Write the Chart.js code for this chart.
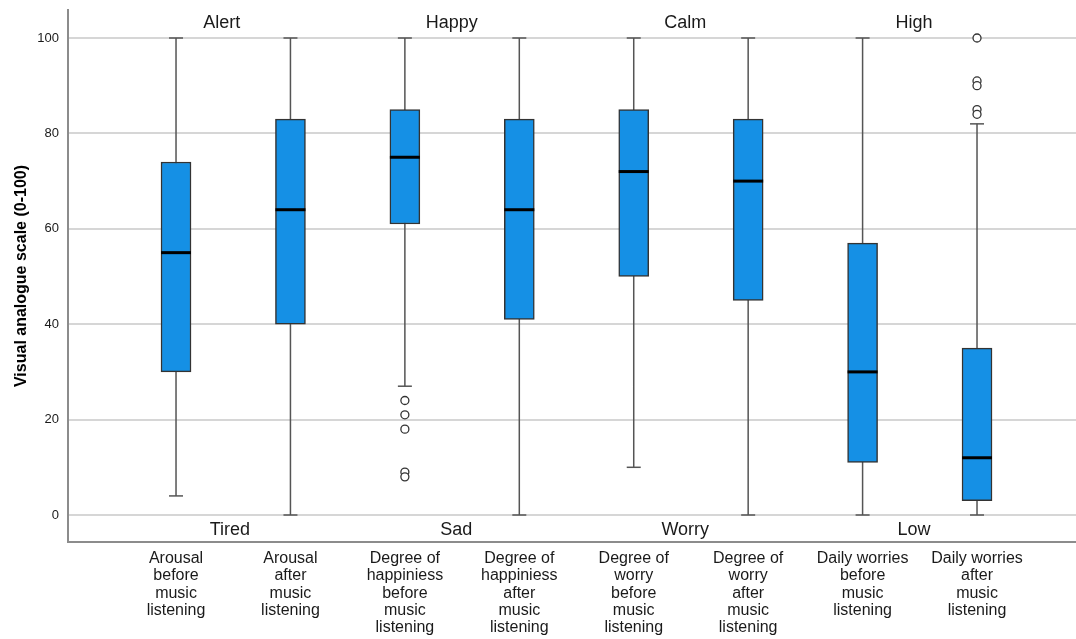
<!DOCTYPE html>
<html>
<head>
<meta charset="utf-8">
<script src="https://cdn.jsdelivr.net/npm/chart.js@4.4.1/dist/chart.umd.min.js"></script>
<style>
  html, body { margin: 0; padding: 0; background: #fff; overflow: hidden; }
  #wrap { width: 1076px; height: 639px; position: relative; }
</style>
</head>
<body>
<div id="wrap"><canvas id="chart"></canvas></div>
<script>
// ── Data ───────────────────────────────────────────────────────────────
const categories = [
  ['Arousal', 'before', 'music', 'listening'],
  ['Arousal', 'after', 'music', 'listening'],
  ['Degree of', 'happiniess', 'before', 'music', 'listening'],
  ['Degree of', 'happiniess', 'after', 'music', 'listening'],
  ['Degree of', 'worry', 'before', 'music', 'listening'],
  ['Degree of', 'worry', 'after', 'music', 'listening'],
  ['Daily worries', 'before', 'music', 'listening'],
  ['Daily worries', 'after', 'music', 'listening']
];
const whiskerLow  = [4, 0, 27, 0, 10, 0, 0, 0];
const q1Values    = [30, 40, 61, 41, 50, 45, 11, 3];
const medians     = [55, 64, 75, 64, 72, 70, 30, 12];
const q3Values    = [74, 83, 85, 83, 85, 83, 57, 35];
const whiskerHigh = [100, 100, 100, 100, 100, 100, 100, 82];
const outliers    = [[], [], [24, 21, 18, 9, 8], [], [], [], [], [100, 91, 90, 85, 84]];

const yTicks = [0, 20, 40, 60, 80, 100];
const yTitle = 'Visual analogue scale (0-100)';

// anchor labels: text, x position (category index), y value
const topLabels    = ['Alert', 'Happy', 'Calm', 'High'];
const topLabelX    = [0.40, 2.41, 4.45, 6.45];
const bottomLabels = ['Tired', 'Sad', 'Worry', 'Low'];
const bottomLabelX = [0.47, 2.45, 4.45, 6.45];
const topLabelY    = 103.1;
const bottomLabelY = -3.1;

// ── Styles ─────────────────────────────────────────────────────────────
const BOX_FILL   = '#1590e5';
const BOX_LINE   = '#333333';
const WHISKER    = '#555555';
const GRID       = '#d6d6d6';
const AXIS       = '#8c8c8c';
const TEXT       = '#1a1a1a';
const FONT       = "'Liberation Sans', Arial, sans-serif";

// ── Build datasets from the arrays ─────────────────────────────────────
const whiskerPts = [];
categories.forEach((_, i) => {
  whiskerPts.push({ x: i, y: whiskerLow[i] }, { x: i, y: whiskerHigh[i] }, { x: i, y: null });
});
const capPts = [];
categories.forEach((_, i) => {
  capPts.push({ x: i, y: whiskerLow[i] }, { x: i, y: whiskerHigh[i] });
});
const boxPts    = categories.map((_, i) => ({ x: i, y: [q1Values[i], q3Values[i]] }));
const medianPts = categories.map((_, i) => ({ x: i, y: medians[i] }));
const outlierPts = [];
outliers.forEach((list, i) => list.forEach(v => outlierPts.push({ x: i, y: v })));

// ── Anchor label plugin ────────────────────────────────────────────────
const anchorLabels = {
  id: 'anchorLabels',
  afterDatasetsDraw(chart) {
    const { ctx, scales: { x, y } } = chart;
    ctx.save();
    ctx.fillStyle = TEXT;
    ctx.font = `18px ${FONT}`;
    ctx.textAlign = 'center';
    ctx.textBaseline = 'middle';
    topLabels.forEach((t, i) => ctx.fillText(t, x.getPixelForValue(topLabelX[i]), y.getPixelForValue(topLabelY)));
    bottomLabels.forEach((t, i) => ctx.fillText(t, x.getPixelForValue(bottomLabelX[i]), y.getPixelForValue(bottomLabelY)));
    ctx.restore();
  }
};

// ── Chart ──────────────────────────────────────────────────────────────
new Chart(document.getElementById('chart'), {
  type: 'bar',
  data: {
    datasets: [
      {
        type: 'scatter', data: outlierPts, order: 0,
        pointStyle: 'circle', pointRadius: 4, pointBackgroundColor: '#fff',
        pointBorderColor: '#333', pointBorderWidth: 1.3
      },
      {
        type: 'scatter', data: medianPts, order: 1,
        pointStyle: 'line', pointRadius: 15, pointBorderColor: '#000', pointBorderWidth: 3
      },
      {
        type: 'bar', data: boxPts, order: 2,
        backgroundColor: BOX_FILL, borderColor: BOX_LINE, borderWidth: 1.5,
        borderSkipped: false, barThickness: 30
      },
      {
        type: 'scatter', data: capPts, order: 3,
        pointStyle: 'line', pointRadius: 7, pointBorderColor: WHISKER, pointBorderWidth: 1.5
      },
      {
        type: 'scatter', data: whiskerPts, order: 4,
        showLine: true, spanGaps: false, borderColor: WHISKER, borderWidth: 1.5, pointRadius: 0
      }
    ]
  },
  options: {
    responsive: true,
    maintainAspectRatio: false,
    animation: false,
    layout: { autoPadding: false, padding: { top: 10, right: 0, left: 12, bottom: 0 } },
    plugins: { legend: { display: false }, tooltip: { enabled: false } },
    scales: {
      x: {
        type: 'linear',
        min: -0.944, max: 7.865,
        offset: false,
        grid: { display: false, drawTicks: false },
        border: { display: true, color: AXIS, width: 2 },
        afterBuildTicks: s => { s.ticks = categories.map((_, i) => ({ value: i })); },
        afterFit: s => { s.height = 97; s.paddingLeft = 0; s.paddingRight = 0; },
        ticks: {
          autoSkip: false, maxRotation: 0, padding: 8,
          color: TEXT, font: { family: FONT, size: 16, lineHeight: 1.08 },
          callback: v => categories[v]
        }
      },
      y: {
        type: 'linear',
        min: -5.66, max: 105.87,
        grid: { color: GRID, lineWidth: 2, drawTicks: false },
        border: { display: true, color: AXIS, width: 2 },
        afterBuildTicks: s => { s.ticks = yTicks.map(v => ({ value: v })); },
        afterFit: s => { s.width = 56; s.paddingTop = 0; s.paddingBottom = 0; },
        ticks: { padding: 9, color: TEXT, font: { family: FONT, size: 13 } },
        title: {
          display: true, text: yTitle, color: '#000', padding: { top: 0, bottom: 8 },
          font: { family: "'Liberation Sans Narrow', " + FONT, size: 16, weight: 'bold' }
        }
      }
    }
  },
  plugins: [anchorLabels]
});
</script>
</body>
</html>
